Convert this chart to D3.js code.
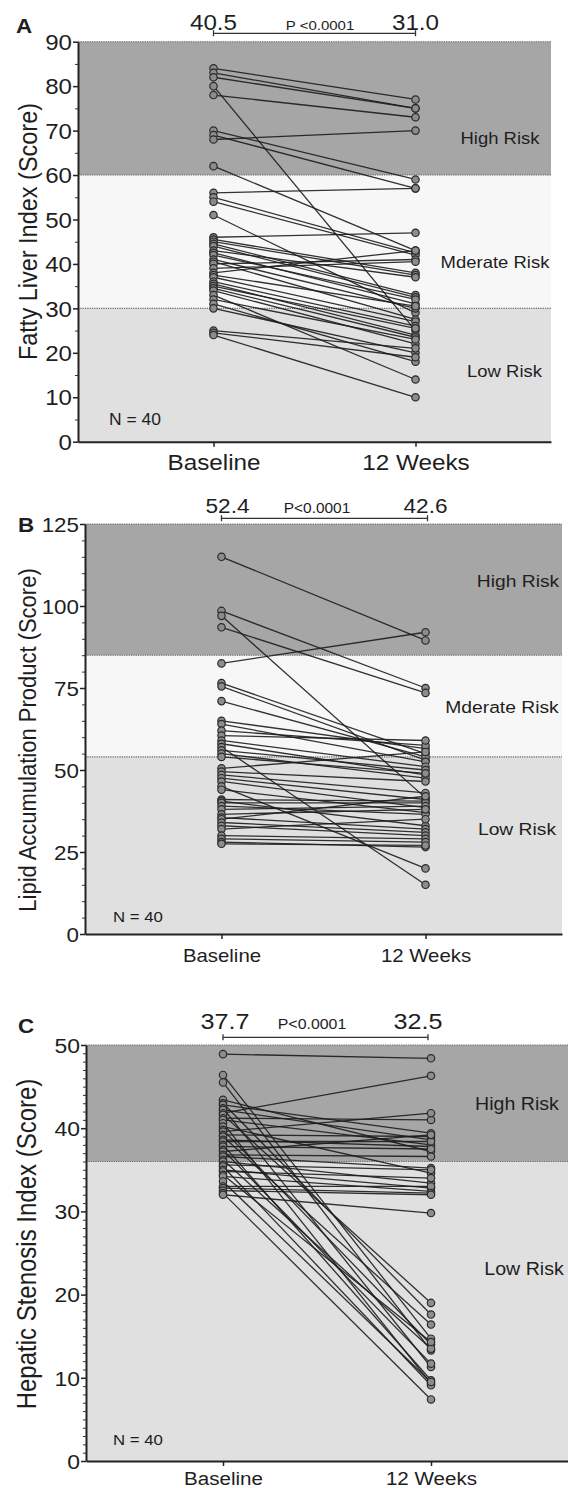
<!DOCTYPE html>
<html><head><meta charset="utf-8">
<script src="https://cdn.jsdelivr.net/npm/d3@7"></script>
<style>
body{margin:0;background:#fff}
svg{display:block}
text{font-family:"Liberation Sans",Arial,Helvetica,sans-serif;fill:#1e1e1e}
</style>
</head><body>
<svg id="chart" width="568" height="1488"></svg>
<script>
// ---------------- DATA ----------------
const categories = ["Baseline", "12 Weeks"];

// Panel A: Fatty Liver Index
const fliBaseline = [84,83,82,80,78,70,69,68,62,56,55,54,51,46,45.5,45,44.5,44,43,42.5,42,41,40.5,40,39,38,37.5,37,36,35.5,35,34.5,34,33,32,31,30,25,24.5,24];
const fliWeek12   = [77,75,75,25,73,59,57,70,43,57,42.5,42,29,47,38,37.5,33,32.5,37,31,32,30,27.5,41,40.5,43,30.5,27,26,24,25.5,23.5,22,14,23,18,20,21,19,10];
const fliTicks = [0,10,20,30,40,50,60,70,80,90];
const fliThresholds = [0,30,60,90];
const fliZoneLabels = ["Low Risk","Mderate Risk","High Risk"];
const fliMeans = ["40.5","31.0"];

// Panel B: Lipid Accumulation Product
const lapBaseline = [115,98.5,97,93.5,82.5,76.5,75.5,71,65,64,62,60.5,59,58,57,56,55,54,50.5,49.5,48.5,47.5,46.5,45,44,41,40.5,40,39,38,36.5,35.5,35,34,33,32,30,29,28,27.5];
const lapWeek12   = [89.5,75,41.5,73.5,92,55,53,54,56.5,52.5,57.5,59,51,48.5,15,50,47.5,49,55.5,46.5,43,41,38.5,20,37,40.5,33,40,36.5,39,38,32,42,31,30,35,29,28,26.5,27];
const lapTicks = [0,25,50,75,100,125];
const lapThresholds = [0,54,85,125];
const lapZoneLabels = ["Low Risk","Mderate Risk","High Risk"];
const lapMeans = ["52.4","42.6"];

// Panel C: Hepatic Stenosis Index
const hsiBaseline = [48.9,46.4,45.5,43.4,43.0,42.8,42.4,42.2,41.8,41.6,41.2,41.0,40.6,40.2,39.8,39.6,39.2,39.0,38.6,38.4,38.0,37.8,37.4,37.2,36.8,36.6,36.2,36.0,35.6,35.4,35.0,34.8,34.4,34.2,33.6,33.0,32.8,32.5,32.2,32.0];
const hsiWeek12   = [48.4,14.7,13.3,37.2,17.6,39.4,11.3,38.6,46.3,19.0,41.0,38.0,9.3,34.6,14.0,41.8,39.0,16.4,37.8,38.4,9.7,37.5,11.7,39.2,36.6,35.2,13.5,33.4,35.0,9.1,32.8,34.0,14.3,32.4,9.5,33.0,32.2,32.0,7.4,29.8];
const hsiTicks = [0,10,20,30,40,50];
const hsiThresholds = [0,36,50];
const hsiZoneLabels = ["Low Risk","High Risk"];
const hsiMeans = ["37.7","32.5"];

const pLabel = "P<0.0001";
const nLabel = "N = 40";

// ---------------- LAYOUT / STYLE ----------------
const SX = 1.12; // horizontal text stretch seen in the figure
const zoneFill = {"Low Risk":"#e0e0e0","Mderate Risk":"#f7f7f7","High Risk":"#a6a6a6"};

const panels = [
  {letter:"A", base:fliBaseline, wk:fliWeek12, ticks:fliTicks, minorStep:5, thr:fliThresholds, zones:fliZoneLabels, means:fliMeans,
   title:"Fatty Liver Index (Score)", p:"P <0.0001",
   left:78, right:551, top:41.7, bottom:441.7, pad:0.6708,
   tickFont:21.5, titleFont:23.5, titleX:37, titleY:231.5, xFont:21.7, xLabelDy:28.3,
   letterX:16, letterY:33, meanY:29.5, meanDx:[0,0], meanFont:21.6, pFont:13.4, pX:320, bracketY:33.3,
   zoneFont:16.5, zonePos:[[504.5,376.7],[495,268],[500,144]], nPos:[109,425], nFont:15.6},
  {letter:"B", base:lapBaseline, wk:lapWeek12, ticks:lapTicks, minorStep:5, thr:lapThresholds, zones:lapZoneLabels, means:lapMeans,
   title:"Lipid Accumulation Product (Score)", p:pLabel,
   left:85, right:562, top:524, bottom:934, pad:0.669,
   tickFont:20, titleFont:22, titleX:36, titleY:740, xFont:18.2, xLabelDy:27.7,
   letterX:18, letterY:532, meanY:513.3, meanDx:[6,0], meanFont:20.2, pFont:13.8, pX:317, bracketY:518.3,
   zoneFont:17.2, zonePos:[[517,835],[502,713],[518,586.7]], nPos:[113,921.7], nFont:15},
  {letter:"C", base:hsiBaseline, wk:hsiWeek12, ticks:hsiTicks, minorStep:1, thr:hsiThresholds, zones:hsiZoneLabels, means:hsiMeans,
   title:"Hepatic Stenosis Index (Score)", p:pLabel,
   left:86, right:568, top:1045, bottom:1461, pad:0.6587,
   tickFont:20.5, titleFont:24, titleX:36, titleY:1244, xFont:18.4, xLabelDy:24,
   letterX:18, letterY:1033, meanY:1029, meanDx:[2,-13], meanFont:22.5, pFont:14.2, pX:312, bracketY:1037.3,
   zoneFont:17.5, zonePos:[[524,1275],[517,1110]], nPos:[113,1445], nFont:15}
];

const svg = d3.select("#chart");

function label(g, x, y, s, size, anchor, extra) {
  extra = extra || {};
  const t = g.append("text")
    .attr("transform", `translate(${x},${y}) scale(${SX},1)` + (extra.rotate ? " rotate(-90)" : ""))
    .attr("text-anchor", anchor || "start")
    .style("font-size", size + "px")
    .text(s);
  if (extra.bold) t.style("font-weight", "bold");
  return t;
}

function drawPanel(P) {
  const g = svg.append("g");
  const max = P.thr[P.thr.length - 1];
  const y = d3.scaleLinear().domain([0, max]).range([P.bottom, P.top]);
  const x = d3.scalePoint().domain(categories).range([P.left, P.right]).padding(P.pad);

  // risk zones
  P.zones.forEach((z, i) => {
    g.append("rect")
      .attr("x", P.left).attr("width", P.right - P.left)
      .attr("y", y(P.thr[i + 1])).attr("height", y(P.thr[i]) - y(P.thr[i + 1]))
      .attr("fill", zoneFill[z]);
  });
  // dotted boundaries
  P.thr.slice(1).forEach(t => {
    g.append("line").attr("x1", P.left).attr("x2", P.right).attr("y1", y(t)).attr("y2", y(t))
      .attr("stroke", "#6a6a6a").attr("stroke-width", 1.1).attr("stroke-dasharray", "1.3,1");
  });
  // zone labels
  P.zones.forEach((z, i) => label(g, P.zonePos[i][0], P.zonePos[i][1], z, P.zoneFont, "middle"));

  // paired lines
  const line = d3.line();
  P.base.forEach((b, i) => {
    g.append("path")
      .attr("d", line([[x(categories[0]), y(b)], [x(categories[1]), y(P.wk[i])]]))
      .attr("stroke", "#1c1c1c").attr("stroke-width", 1.3).attr("fill", "none").attr("stroke-opacity", 0.9);
  });
  // points
  [[categories[0], P.base], [categories[1], P.wk]].forEach(([c, arr]) => {
    g.selectAll(null).data(arr).enter().append("circle")
      .attr("cx", x(c)).attr("cy", d => y(d)).attr("r", 3.7)
      .attr("fill", "#8c8c8c").attr("stroke", "#2a2a2a").attr("stroke-width", 1.2);
  });

  // y axis minor ticks
  const minor = d3.range(0, max + 0.001, P.minorStep).filter(v => !P.ticks.includes(v));
  g.append("g").attr("transform", `translate(${P.left},0)`)
    .call(d3.axisLeft(y).tickValues(minor).tickSize(3).tickFormat(""))
    .call(a => a.select(".domain").remove())
    .call(a => a.selectAll("line").attr("stroke", "#333").attr("stroke-width", 1));
  // y axis major
  g.append("g").attr("transform", `translate(${P.left},0)`)
    .call(d3.axisLeft(y).tickValues(P.ticks).tickSize(5).tickSizeOuter(0).tickPadding(2))
    .call(a => a.select(".domain").attr("stroke", "#222").attr("stroke-width", 2))
    .call(a => a.selectAll("line").attr("stroke", "#222").attr("stroke-width", 1.5))
    .call(a => a.selectAll("text")
      .attr("x", null).attr("dy", "0.36em")
      .attr("transform", `translate(-6,0) scale(${SX},1)`)
      .style("font-size", P.tickFont + "px").style("font-family", "Liberation Sans, Arial, sans-serif").attr("fill", "#1e1e1e"));

  // x axis
  g.append("g").attr("transform", `translate(0,${P.bottom})`)
    .call(d3.axisBottom(x).tickSize(5).tickSizeOuter(0))
    .call(a => a.select(".domain").attr("stroke", "#222").attr("stroke-width", 2))
    .call(a => a.selectAll("line").attr("stroke", "#222").attr("stroke-width", 1.5))
    .call(a => a.selectAll("text")
      .attr("y", null).attr("dy", null)
      .attr("transform", `translate(0,${P.xLabelDy}) scale(${SX},1)`)
      .style("font-size", P.xFont + "px").style("font-family", "Liberation Sans, Arial, sans-serif").attr("fill", "#1e1e1e"));

  // y title
  label(g, P.titleX, P.titleY, P.title, P.titleFont, "middle", {rotate: true});
  // panel letter
  label(g, P.letterX, P.letterY, P.letter, 20, "start", {bold: true});
  // means & p-value bracket
  categories.forEach((c, i) => label(g, x(c) + P.meanDx[i], P.meanY, P.means[i], P.meanFont, "middle"));
  const x0 = x(categories[0]), x1 = x(categories[1]) + (P.letter === "A" ? 0 : 2);
  const by = P.bracketY;
  g.append("path")
    .attr("d", `M${x0},${by - 3}V${by + 3}M${x0},${by}H${x1 - (P.letter === "C" ? 5 : 0)}M${x1 - (P.letter === "C" ? 5 : 0)},${by - 3}V${by + 3}`)
    .attr("stroke", "#333").attr("stroke-width", 1.3).attr("fill", "none");
  label(g, P.pX, P.meanY, P.p, P.pFont, "middle");
  // N
  label(g, P.nPos[0], P.nPos[1], nLabel, P.nFont, "start");
}

panels.forEach(drawPanel);
</script>
</body></html>
